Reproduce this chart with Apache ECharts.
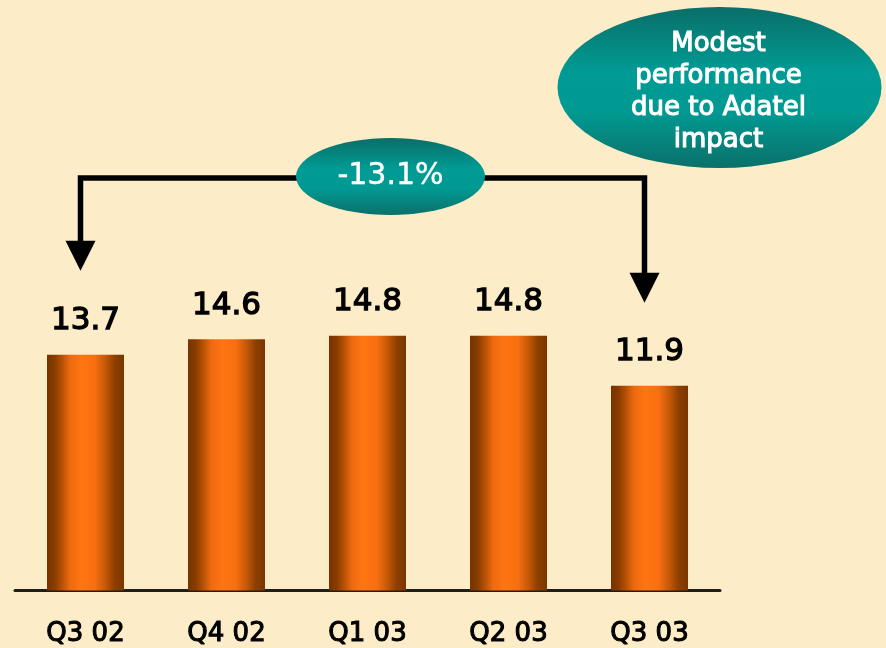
<!DOCTYPE html>
<html>
<head>
<meta charset="utf-8">
<script src="https://cdn.jsdelivr.net/npm/echarts@6/dist/echarts.min.js"></script>
<style>
html,body{margin:0;padding:0;background:#fcecc8;}
#chart{width:886px;height:648px;}
</style>
</head>
<body>
<div id="chart"></div>
<script>
var categories = ['Q3 02', 'Q4 02', 'Q1 03', 'Q2 03', 'Q3 03'];
var values = [13.7, 14.6, 14.8, 14.8, 11.9];
var noteLines = ['Modest', 'performance', 'due to Adatel', 'impact'];

var chart = echarts.init(document.getElementById('chart'), null, {renderer: 'canvas'});

var barGradient = new echarts.graphic.LinearGradient(0, 0, 1, 0, [
  {offset: 0, color: '#763300'},
  {offset: 0.1, color: '#8a3c00'},
  {offset: 0.2, color: '#b85205'},
  {offset: 0.3, color: '#ee6a10'},
  {offset: 0.45, color: '#ff7512'},
  {offset: 0.62, color: '#f86f10'},
  {offset: 0.76, color: '#c45808'},
  {offset: 0.88, color: '#8c3f00'},
  {offset: 1, color: '#7a3600'}
]);

chart.setOption({
  backgroundColor: '#fcecc8',
  animation: false,
  grid: {left: 15, right: 166, bottom: 57, top: 246.4, containLabel: false},
  xAxis: {
    type: 'category',
    data: categories,
    axisLine: {show: true, lineStyle: {color: '#1e1e1e', width: 3}},
    axisTick: {show: false},
    axisLabel: {
      margin: 31,
      color: '#000',
      fontFamily: 'DejaVu Sans',
      fontWeight: 'normal',
      fontSize: 26,
      textBorderColor: '#000',
      textBorderWidth: 1.1
    }
  },
  yAxis: {
    type: 'value',
    min: 0,
    max: 20,
    show: false
  },
  series: [{
    type: 'bar',
    data: values,
    barWidth: 77,
    itemStyle: {color: barGradient},
    z: 1,
    label: {
      show: true,
      position: 'top',
      distance: 18,
      color: '#000',
      fontFamily: 'DejaVu Sans',
      fontWeight: 'normal',
      fontSize: 31,
      textBorderColor: '#000',
      textBorderWidth: 1.3,
      formatter: function (p) { return p.value.toFixed(1); }
    }
  }]
});

// Annotations anchored to the data positions
var first = chart.convertToPixel({seriesIndex: 0}, [0, values[0]]);
var last = chart.convertToPixel({seriesIndex: 0}, [values.length - 1, values[values.length - 1]]);
var xL = first[0] - 5, xR = last[0] - 5;
var tipL = first[1] - 84, tipR = last[1] - 83;
var lineY = 178;
var head = 30, halfW = 15;
var change = ((values[values.length - 1] - values[0]) / values[0] * 100).toFixed(1) + '%';

var tealGrad = function () {
  return new echarts.graphic.LinearGradient(0, 0, 0, 1, [
    {offset: 0, color: '#0a6e68'},
    {offset: 0.4, color: '#009b94'},
    {offset: 0.65, color: '#009a93'},
    {offset: 1, color: '#0b706a'}
  ]);
};

var e1 = {cx: 390.5, cy: 176.5, rx: 94.5, ry: 38.5};
var e2 = {cx: 719.5, cy: 87.5, rx: 162, ry: 80.5};

chart.setOption({
  graphic: [
    {
      type: 'polyline',
      shape: {points: [[xL, tipL - head + 2], [xL, lineY], [xR, lineY], [xR, tipR - head + 2]]},
      style: {stroke: '#000', lineWidth: 5.5, fill: null, lineJoin: 'miter'},
      z: 10
    },
    {
      type: 'polygon',
      shape: {points: [[xL - halfW, tipL - head], [xL + halfW, tipL - head], [xL, tipL]]},
      style: {fill: '#000'},
      z: 10
    },
    {
      type: 'polygon',
      shape: {points: [[xR - halfW, tipR - head], [xR + halfW, tipR - head], [xR, tipR]]},
      style: {fill: '#000'},
      z: 10
    },
    {
      type: 'circle',
      x: e1.cx, y: e1.cy,
      scaleX: e1.rx / e1.ry,
      shape: {cx: 0, cy: 0, r: e1.ry},
      style: {fill: tealGrad()},
      z: 20
    },
    {
      type: 'text',
      x: e1.cx, y: e1.cy,
      style: {
        text: change,
        fill: '#fff',
        font: 'normal 30px "DejaVu Sans"',
        stroke: '#fff',
        lineWidth: 0.4,
        textAlign: 'center',
        textVerticalAlign: 'middle'
      },
      z: 21
    },
    {
      type: 'circle',
      x: e2.cx, y: e2.cy,
      scaleX: e2.rx / e2.ry,
      shape: {cx: 0, cy: 0, r: e2.ry},
      style: {fill: tealGrad()},
      z: 20
    },
    {
      type: 'text',
      x: e2.cx - 1, y: e2.cy + 5,
      style: {
        text: noteLines.join('\n'),
        fill: '#fff',
        font: 'normal 26px "DejaVu Sans"',
        stroke: '#fff',
        lineWidth: 1.1,
        lineHeight: 32,
        textAlign: 'center',
        textVerticalAlign: 'middle'
      },
      z: 21
    }
  ]
});
</script>
</body>
</html>
